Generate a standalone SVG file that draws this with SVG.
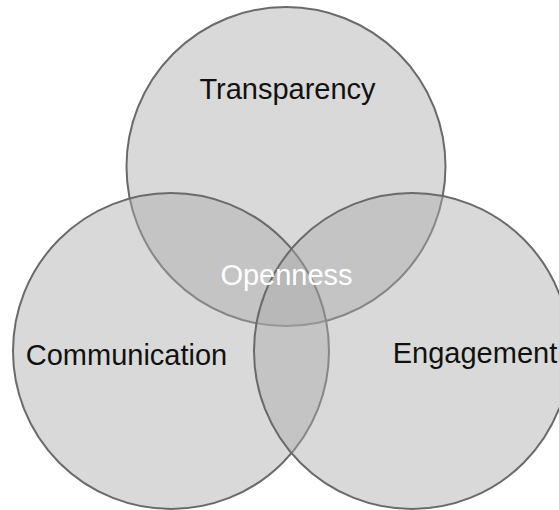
<svg xmlns="http://www.w3.org/2000/svg" width="559" height="510" viewBox="0 0 559 510">
<style>
.c{fill:#ababab;fill-opacity:0.45;stroke:#6a6a6a;stroke-width:2}
.t{font-family:"Liberation Sans",Arial,sans-serif;font-size:29px;fill:#111;text-anchor:middle}
.w{fill:#ffffff}
</style>
<rect width="559" height="510" fill="#ffffff"/>
<g id="transparency">
<circle class="c" cx="286" cy="166.5" r="159.5"/>
</g>
<g id="communication">
<circle class="c" cx="171" cy="351" r="158"/>
</g>
<g id="engagement">
<circle class="c" cx="412" cy="351" r="158"/>
</g>
<g id="connectors"></g>
<g id="labels">
<text class="t" x="287.5" y="99">Transparency</text>
<text class="t" x="126.5" y="365">Communication</text>
<text class="t" x="475" y="363">Engagement</text>
<text class="t w" x="286.5" y="285">Openness</text>
</g>
</svg>
